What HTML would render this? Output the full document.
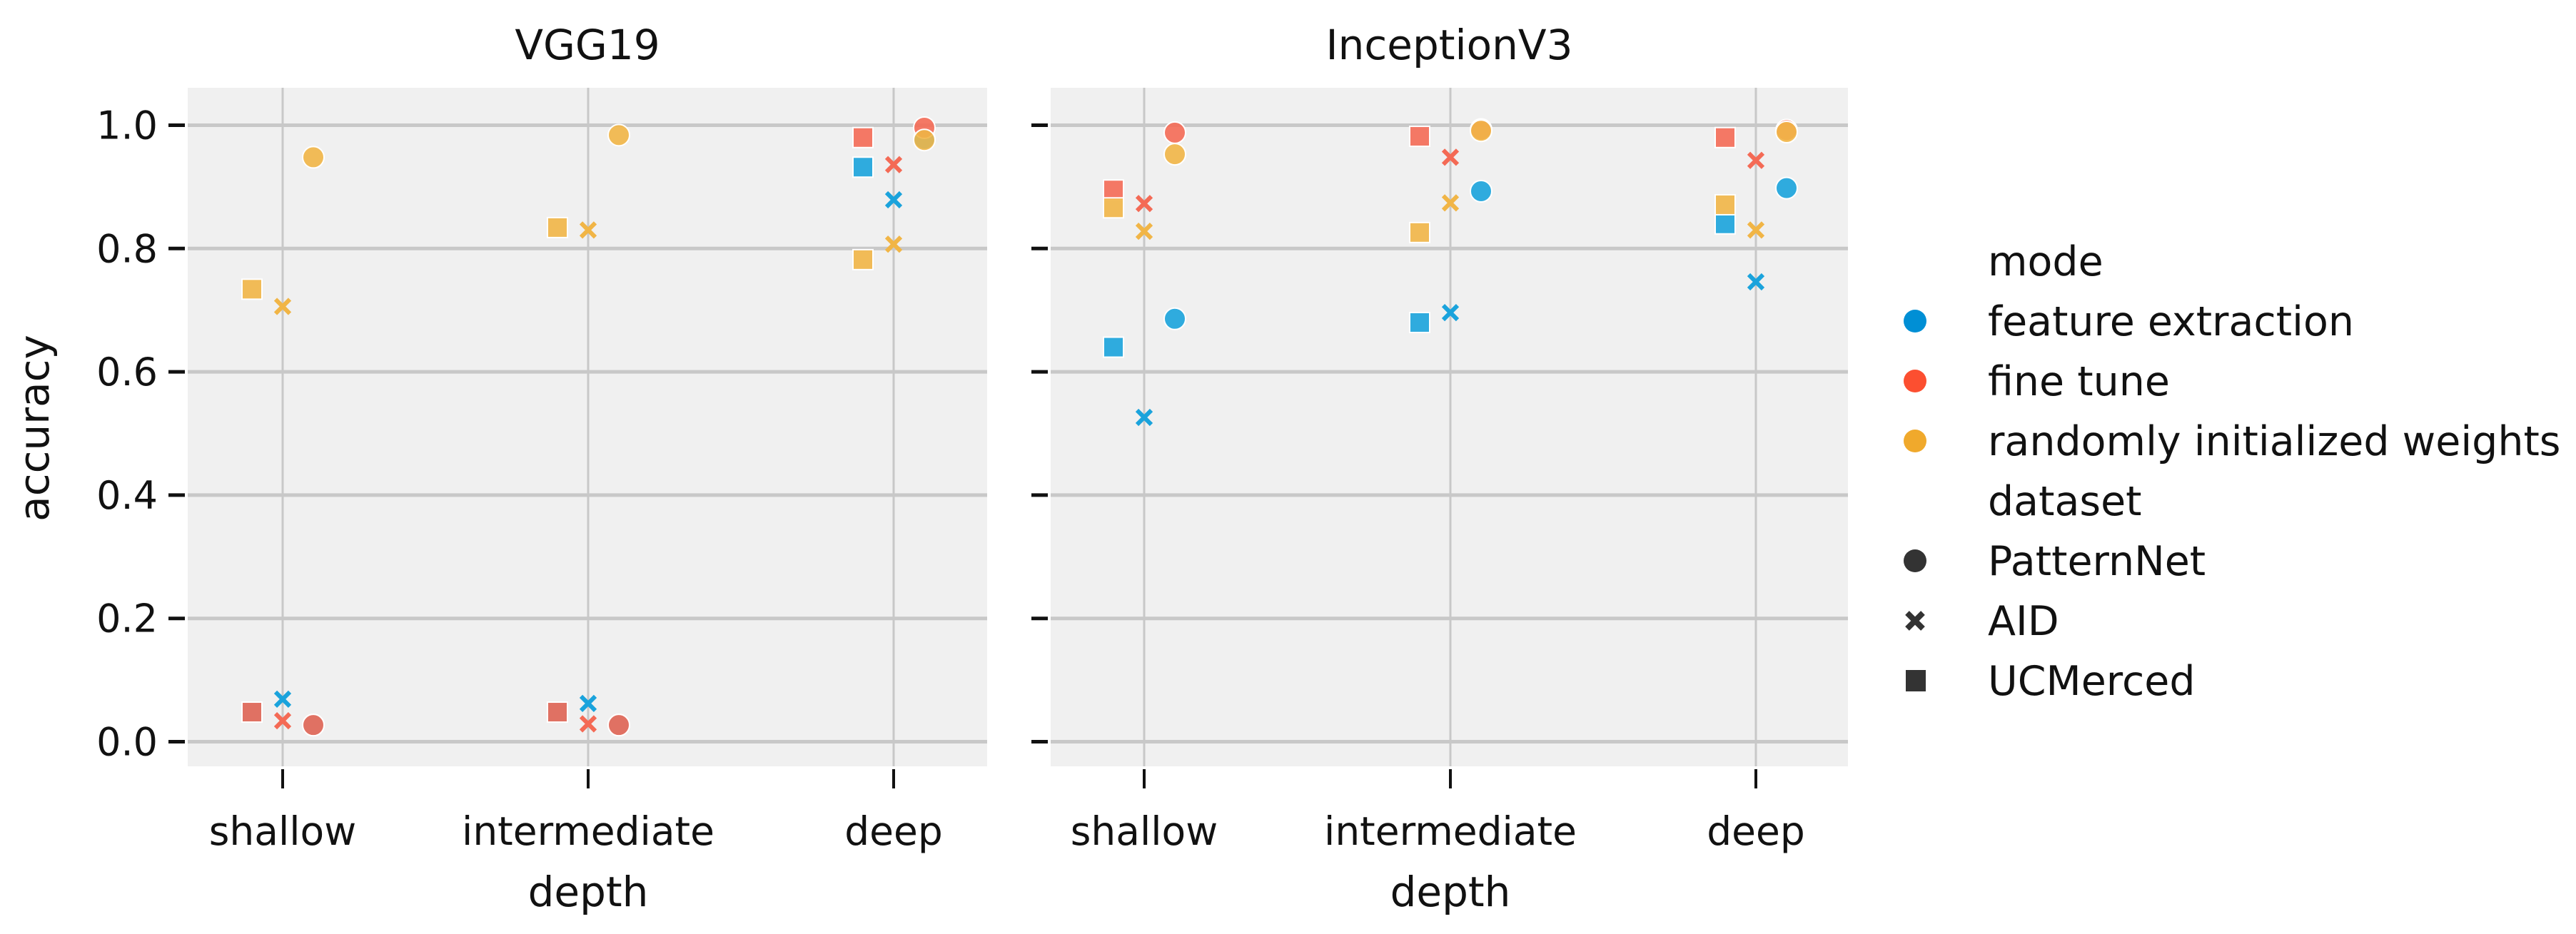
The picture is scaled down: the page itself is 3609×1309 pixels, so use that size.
<!DOCTYPE html>
<html><head><meta charset="utf-8"><style>
html,body{margin:0;padding:0;background:#fff;}
svg text{font-family:"DejaVu Sans","Liberation Sans",sans-serif;fill:#111;}
</style></head><body>
<svg id="chart" width="3609" height="1304" viewBox="0 0 3609 1304" xmlns="http://www.w3.org/2000/svg"></svg>
<script>
const categories = ["shallow","intermediate","deep"];
const datasets = ["UCMerced","AID","PatternNet"];
const modes = ["feature extraction","fine tune","randomly initialized weights"];
const yTicks = [0.0,0.2,0.4,0.6,0.8,1.0];
const yTickLabels = ["0.0","0.2","0.4","0.6","0.8","1.0"];
// values[mode][dataset][category]
const vggFeature = [[0.048,0.048,0.932],[0.069,0.062,0.879],[0.027,0.027,0.978]];
const vggFine = [[0.048,0.048,0.980],[0.034,0.029,0.936],[0.027,0.027,0.996]];
const vggRandom = [[0.734,0.834,0.782],[0.706,0.830,0.807],[0.948,0.984,0.976]];
const incFeature = [[0.640,0.680,0.840],[0.526,0.696,0.746],[0.686,0.893,0.898]];
const incFine = [[0.895,0.982,0.980],[0.873,0.948,0.943],[0.988,0.993,0.992]];
const incRandom = [[0.866,0.826,0.871],[0.828,0.874,0.830],[0.953,0.991,0.989]];
const panelTitles = ["VGG19","InceptionV3"];

const colors = ["#1aa3dc","#f46a55","#f1b546"];
const NS="http://www.w3.org/2000/svg";
const svg=document.getElementById('chart');
function mk(tag,attrs,parent){const e=document.createElementNS(NS,tag);for(const k in attrs)e.setAttribute(k,attrs[k]);(parent||svg).appendChild(e);return e;}

const panels=[{x0:263,x1:1383,cx:[396,824,1252],data:[vggFeature,vggFine,vggRandom]},
              {x0:1472,x1:2589,cx:[1603,2032,2460],data:[incFeature,incFine,incRandom]}];
const yTop=123,yBot=1074;
function yS(v){return 1039.5-v*864;}
const offsets=[-43,0,43];

panels.forEach((p,pi)=>{
  const g=mk('g',{});
  
  
  const bg=mk('rect',{x:p.x0,y:yTop,width:p.x1-p.x0,height:yBot-yTop,fill:'#f0f0f0'},g);
  
  
  yTicks.forEach((t,i)=>{
    const gl=mk('line',{x1:p.x0,x2:p.x1,y1:yS(t),y2:yS(t),stroke:'#c8c8c8','stroke-width':5},g);
    
    
    const tk=mk('line',{x1:p.x0-27,x2:p.x0-4,y1:yS(t),y2:yS(t),stroke:'#111','stroke-width':5},g);
    
    
    if(pi===0){
      const tl=mk('text',{x:p.x0-42,y:yS(t)+19,'text-anchor':'end','font-size':54},g);
      tl.textContent=yTickLabels[i];
      
      
    }
  });
  categories.forEach((c,ci)=>{
    const gl=mk('line',{x1:p.cx[ci],x2:p.cx[ci],y1:yTop,y2:yBot,stroke:'#c8c8c8','stroke-width':3},g);
    
    
    const tk=mk('line',{x1:p.cx[ci],x2:p.cx[ci],y1:1078,y2:1105,stroke:'#111','stroke-width':4},g);
    
    
    const tl=mk('text',{x:p.cx[ci],y:1184,'text-anchor':'middle','font-size':55},g);
    tl.textContent=c;
    
    
  });
  const xt=mk('text',{x:p.cx[1],y:1270,'text-anchor':'middle','font-size':58},g);
  xt.textContent='depth';
  
  
  const tt=mk('text',{x:(p.x0+p.x1)/2,y:83,'text-anchor':'middle','font-size':58},g);
  tt.textContent=panelTitles[pi];
  
  
  p.data.forEach((modeArr,mi)=>{
    modeArr.forEach((dsArr,di)=>{
      dsArr.forEach((v,ci)=>{
        const x=p.cx[ci]+offsets[di], y=yS(v);
        drawMarker(g,di,x,y,colors[mi],'point-'+modes[mi].split(' ')[0]+'-'+datasets[di].toLowerCase()+'-'+categories[ci]);
      });
    });
  });
});

function drawMarker(g,di,x,y,col,name){
  let e;
  if(di===0){
    e=mk('rect',{x:x-14,y:y-14,width:28,height:28,fill:col,stroke:'#fff','stroke-width':2,'fill-opacity':0.9},g);
  }else if(di===2){
    e=mk('circle',{cx:x,cy:y,r:15,fill:col,stroke:'#fff','stroke-width':2,'fill-opacity':0.9},g);
  }else{
    const s=10;
    e=mk('path',{d:`M${x-s},${y-s}L${x+s},${y+s}M${x-s},${y+s}L${x+s},${y-s}`,stroke:col,'stroke-width':6,fill:'none'},g);
  }
  
  
}

const yl=mk('text',{x:0,y:0,'text-anchor':'middle','font-size':58,transform:'translate(68,600) rotate(-90)'});
yl.textContent='accuracy';



const lg=mk('g',{});


const legendRows=[
  {t:'mode',m:null},{t:'feature extraction',m:[2]},{t:'fine tune',m:[2]},
  {t:'randomly initialized weights',m:[2]},{t:'dataset',m:null},
  {t:'PatternNet',m:[2]},{t:'AID',m:[1]},{t:'UCMerced',m:[0]}
];
const lgColors=['#008fd5','#fc4f30','#f0a92c'];
legendRows.forEach((r,i)=>{
  const y=366+i*84;
  const t=mk('text',{x:2785,y:y+20,'font-size':57},lg);
  t.textContent=r.t;
  
  
  if(r.m){
    let col='#333'; if(i>=1&&i<=3) col=lgColors[i-1];
    let e;
    if(r.m[0]===2) e=mk('circle',{cx:2683,cy:y,r:16,fill:col},lg);
    else if(r.m[0]===0) e=mk('rect',{x:2670,y:y-15,width:28,height:30,fill:col},lg);
    else e=mk('path',{d:`M2672,${y-11}L2694,${y+11}M2672,${y+11}L2694,${y-11}`,stroke:col,'stroke-width':8},lg);
    
    
  }
});
</script>
</body></html>
